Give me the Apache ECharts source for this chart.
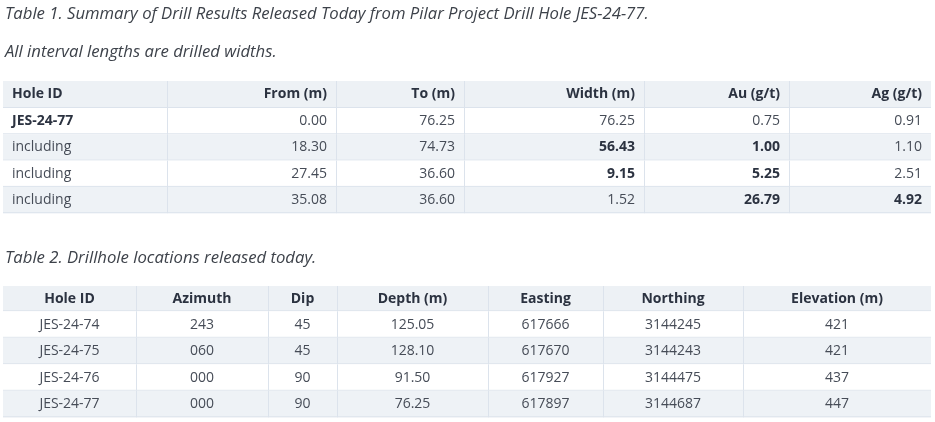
<!DOCTYPE html>
<html>
<head>
<meta charset="utf-8">
<script src="https://cdn.jsdelivr.net/npm/echarts@6/dist/echarts.min.js"></script>
<style>
  html, body { margin: 0; padding: 0; background: #fff; }
  #main { width: 935px; height: 422px; }
</style>
</head>
<body>
<div id="main"></div>
<script>
// ---- data ----
const caption1 = 'Table 1. Summary of Drill Results Released Today from Pilar Project Drill Hole JES-24-77.';
const caption2 = 'All interval lengths are drilled widths.';
const caption3 = 'Table 2. Drillhole locations released today.';

const t1Headers = ['Hole ID', 'From (m)', 'To (m)', 'Width (m)', 'Au (g/t)', 'Ag (g/t)'];
const t1HoleIds = ['JES-24-77', 'including', 'including', 'including'];
const t1From = [0.00, 18.30, 27.45, 35.08];
const t1To = [76.25, 74.73, 36.60, 36.60];
const t1Width = [76.25, 56.43, 9.15, 1.52];
const t1Au = [0.75, 1.00, 5.25, 26.79];
const t1Ag = [0.91, 1.10, 2.51, 4.92];
// bold (highlighted) cells: [row, col]
const t1Bold = [[0, 0], [1, 3], [1, 4], [2, 3], [2, 4], [3, 4], [3, 5]];

const t2Headers = ['Hole ID', 'Azimuth', 'Dip', 'Depth (m)', 'Easting', 'Northing', 'Elevation (m)'];
const t2HoleIds = ['JES-24-74', 'JES-24-75', 'JES-24-76', 'JES-24-77'];
const t2Azimuth = ['243', '060', '000', '000'];
const t2Dip = [45, 45, 90, 90];
const t2Depth = [125.05, 128.10, 91.50, 76.25];
const t2Easting = [617666, 617670, 617927, 617897];
const t2Northing = [3144245, 3144243, 3144475, 3144687];
const t2Elevation = [421, 421, 437, 447];

// ---- layout (pixels on a 935x422 value grid) ----
const W = 935, H = 422;
const layout1 = { cols: [3, 167, 336, 464, 644, 789, 931], top: 81, headH: 27, rowH: 26.3, align: 'right' };
const layout2 = { cols: [3, 136, 268, 337, 488, 603, 743, 931], top: 286, headH: 25.3, rowH: 26.5, align: 'center' };

const headBg = '#edf1f5';
const stripeBg = '#eef2f6';
const lineColor = '#dce3ec';
const textColor = '#464c57';
const boldColor = '#2b3240';
const font = '"Open Sans", "Noto Sans", sans-serif';

function fmt2(v) { return v.toFixed(2); }

const t1Rows = t1HoleIds.map((id, i) => [id, fmt2(t1From[i]), fmt2(t1To[i]), fmt2(t1Width[i]), fmt2(t1Au[i]), fmt2(t1Ag[i])]);
const t2Rows = t2HoleIds.map((id, i) => [id, t2Azimuth[i], String(t2Dip[i]), fmt2(t2Depth[i]), String(t2Easting[i]), String(t2Northing[i]), String(t2Elevation[i])]);

function buildCells(headers, rows, bold) {
  let cells = [];
  headers.forEach((h, c) => cells.push({ value: [c, 0], text: h, header: true, bold: true }));
  rows.forEach((row, r) => {
    row.forEach((t, c) => {
      let b = bold.some(p => p[0] == r && p[1] == c);
      cells.push({ value: [c, r + 1], text: t, header: false, bold: b });
    });
  });
  return cells;
}

const cells1 = buildCells(t1Headers, t1Rows, t1Bold);
const cells2 = buildCells(t2Headers, t2Rows, []);

function makeRenderer(cells, lay) {
  return function (params, api) {
    let cell = cells[params.dataIndex];
    let c = api.value(0), r = api.value(1);
    let x0 = lay.cols[c], x1 = lay.cols[c + 1];
    let y0 = r == 0 ? lay.top : lay.top + lay.headH + (r - 1) * lay.rowH;
    let y1 = r == 0 ? lay.top + lay.headH : y0 + lay.rowH;
    let p0 = api.coord([x0, y0]);
    let p1 = api.coord([x1, y1]);
    let fill = r == 0 ? headBg : (r % 2 == 0 ? stripeBg : '#ffffff');
    let children = [
      { type: 'rect', shape: { x: p0[0], y: p0[1], width: p1[0] - p0[0], height: p1[1] - p0[1] }, style: { fill: fill } },
      { type: 'line', shape: { x1: p0[0], y1: p1[1] - 0.5, x2: p1[0], y2: p1[1] - 0.5 }, style: { stroke: lineColor, lineWidth: 1 } }
    ];
    if (c > 0) {
      children.push({ type: 'line', shape: { x1: p0[0] + 0.5, y1: p0[1], x2: p0[0] + 0.5, y2: p1[1] }, style: { stroke: lineColor, lineWidth: 1 } });
    }
    let align = lay.align;
    if (align == 'right' && c == 0) align = 'left';
    let tx = align == 'left' ? p0[0] + 9 : (align == 'right' ? p1[0] - 9 : (p0[0] + p1[0]) / 2);
    children.push({
      type: 'text',
      style: {
        text: cell.text,
        x: tx,
        y: (p0[1] + p1[1]) / 2,
        textAlign: align,
        textVerticalAlign: 'middle',
        fill: cell.bold ? boldColor : textColor,
        fontSize: 14,
        fontWeight: cell.bold ? 'bold' : 'normal',
        fontFamily: font
      }
    });
    return { type: 'group', children: children };
  };
}

const captionStyle = { fontSize: 16.7, fontStyle: 'italic', fontWeight: 'normal', color: '#3d424a', fontFamily: font, lineHeight: 22 };

const myChart = echarts.init(document.getElementById('main'));
const option = {
  animation: false,
  title: [
    { text: caption1, left: 5, top: 3, padding: 0, textStyle: captionStyle },
    { text: caption2, left: 5, top: 41, padding: 0, textStyle: captionStyle },
    { text: caption3, left: 5, top: 247, padding: 0, textStyle: captionStyle }
  ],
  grid: { left: 0, right: 0, top: 0, bottom: 0 },
  xAxis: { type: 'value', min: 0, max: W, show: false },
  yAxis: { type: 'value', min: 0, max: H, inverse: true, show: false },
  series: [
    { type: 'custom', renderItem: makeRenderer(cells1, layout1), data: cells1, silent: true },
    { type: 'custom', renderItem: makeRenderer(cells2, layout2), data: cells2, silent: true }
  ]
};
myChart.setOption(option);
</script>
</body>
</html>
